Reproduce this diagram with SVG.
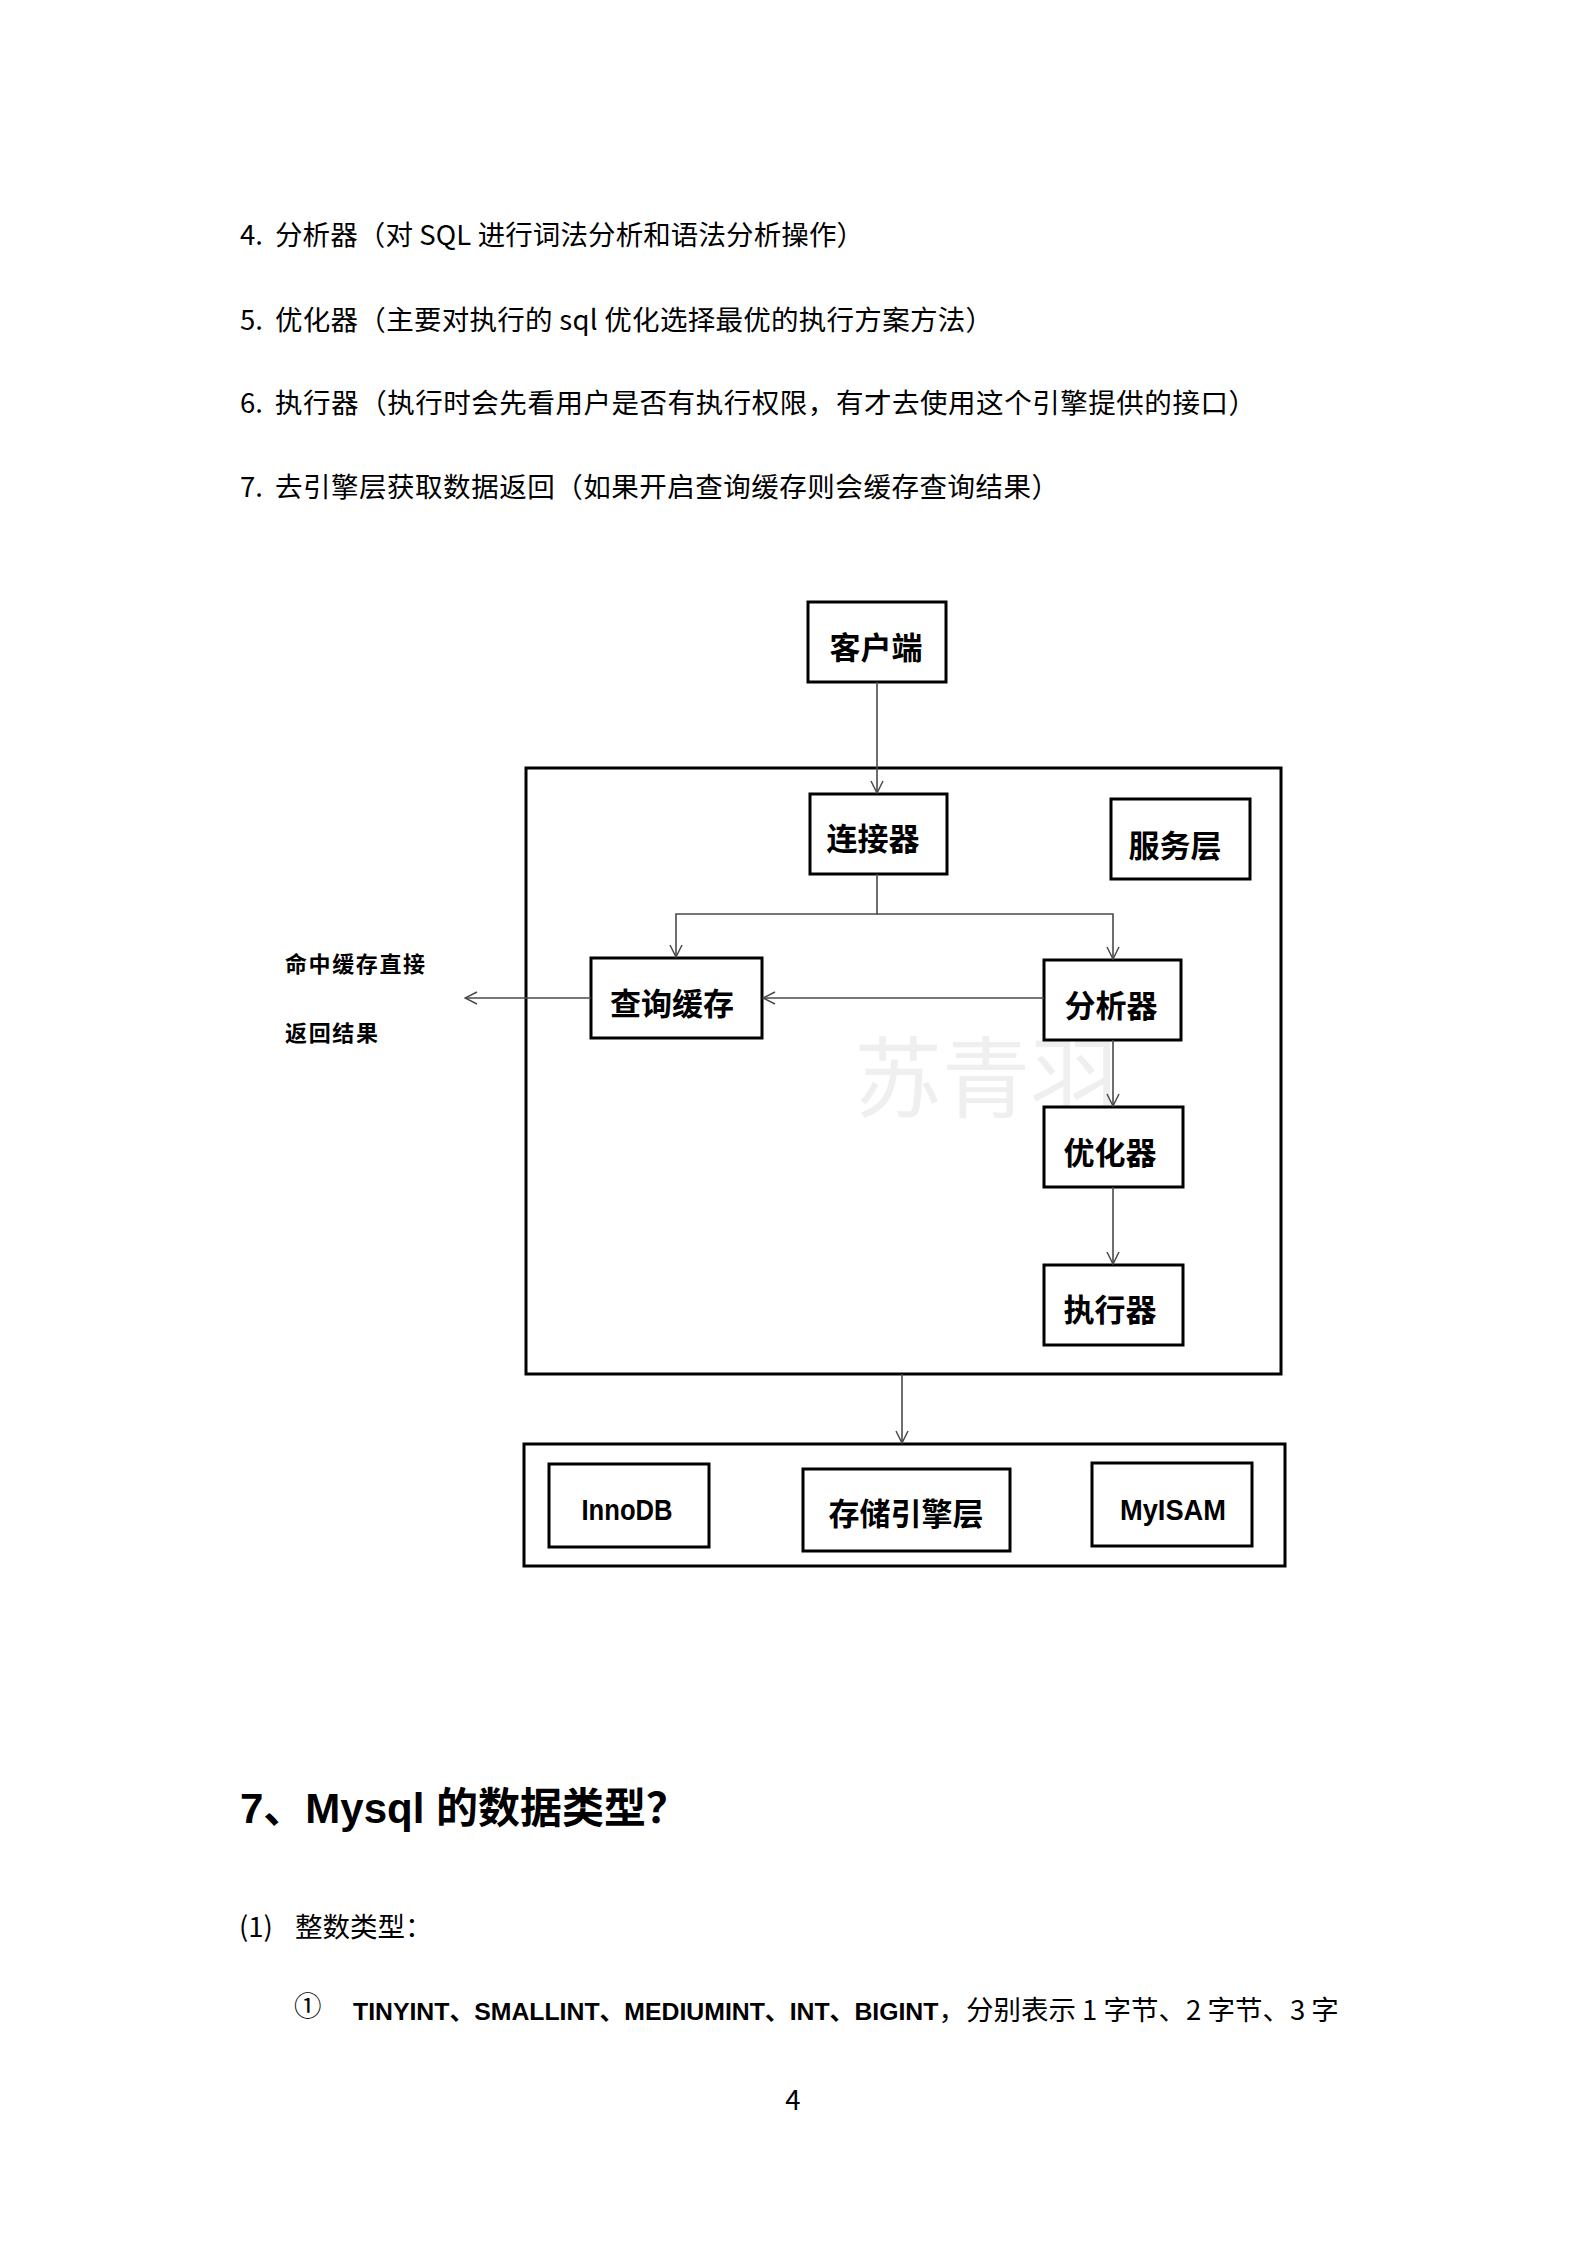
<svg xmlns="http://www.w3.org/2000/svg" width="1587" height="2245" viewBox="0 0 1587 2245">
  <defs>
    <marker id="arr" viewBox="0 0 14 14" refX="13" refY="7" markerWidth="14" markerHeight="14" markerUnits="userSpaceOnUse" orient="auto">
      <path d="M1,1 L13,7 L1,13" fill="none" stroke="#4a4a4a" stroke-width="1.5"/>
    </marker>
    <style>
      .body { font-family: "Noto Sans CJK SC", "Liberation Sans", sans-serif; font-size: 27.5px; fill: #000; }
      .head { font-family: "Liberation Sans", "Noto Sans CJK SC", sans-serif; font-size: 42px; font-weight: bold; fill: #000; }
      .box { fill: #fff; stroke: #000; stroke-width: 3; }
      .lbl { font-family: "Noto Sans CJK SC", sans-serif; font-size: 31px; font-weight: bold; fill: #000; text-anchor: middle; }
      .eng { font-family: "Liberation Sans", sans-serif; font-size: 29px; font-weight: bold; fill: #000; text-anchor: middle; }
      .side { font-family: "Noto Sans CJK SC", sans-serif; font-size: 22px; font-weight: bold; fill: #000; }
      .conn { fill: none; stroke: #4a4a4a; stroke-width: 1.6; }
      .wm { font-family: "Noto Sans CJK SC", sans-serif; font-size: 88px; fill: #efefef; }
    </style>
  </defs>
  <rect x="0" y="0" width="1587" height="2245" fill="#fff"/>

  <g id="intro-text">
    <text class="body" x="240" y="245">4.</text>
    <text class="body" x="275" y="245" textLength="589">分析器（对 SQL 进行词法分析和语法分析操作）</text>
    <text class="body" x="240" y="330">5.</text>
    <text class="body" x="275" y="330" textLength="718">优化器（主要对执行的 sql 优化选择最优的执行方案方法）</text>
    <text class="body" x="240" y="413">6.</text>
    <text class="body" x="275" y="413" textLength="981">执行器（执行时会先看用户是否有执行权限，有才去使用这个引擎提供的接口）</text>
    <text class="body" x="240" y="497">7.</text>
    <text class="body" x="275" y="497" textLength="784">去引擎层获取数据返回（如果开启查询缓存则会缓存查询结果）</text>
  </g>

  <g id="service-layer">
    <rect class="box" x="526" y="768" width="755" height="606"/>
  </g>

  <text class="wm" x="854" y="1110">苏青羽</text>

  <g id="client"><rect class="box" x="808" y="602" width="138" height="80"/><text class="lbl" x="876" y="659">客户端</text></g>
  <g id="connector"><rect class="box" x="810" y="794" width="137" height="80"/><text class="lbl" x="873" y="850">连接器</text></g>
  <g id="service-label"><rect class="box" x="1111" y="799" width="139" height="80"/><text class="lbl" x="1175" y="857">服务层</text></g>
  <g id="query-cache"><rect class="box" x="591" y="958" width="171" height="80"/><text class="lbl" x="672" y="1015">查询缓存</text></g>
  <g id="analyzer"><rect class="box" x="1044" y="960" width="137" height="80"/><text class="lbl" x="1111" y="1017">分析器</text></g>
  <g id="optimizer"><rect class="box" x="1044" y="1107" width="139" height="80"/><text class="lbl" x="1110" y="1164">优化器</text></g>
  <g id="executor"><rect class="box" x="1044" y="1265" width="139" height="80"/><text class="lbl" x="1110" y="1321">执行器</text></g>

  <g id="cache-hit-label">
    <text class="side" x="285" y="972" textLength="140">命中缓存直接</text>
    <text class="side" x="285" y="1041" textLength="93">返回结果</text>
  </g>

  <g id="storage-layer">
    <rect class="box" x="524" y="1444" width="761" height="122"/>
  </g>
  <g id="innodb"><rect class="box" x="549" y="1464" width="160" height="83"/><text class="eng" x="627" y="1520" textLength="91" lengthAdjust="spacingAndGlyphs">InnoDB</text></g>
  <g id="storage-engine"><rect class="box" x="803" y="1469" width="207" height="82"/><text class="lbl" x="906" y="1525">存储引擎层</text></g>
  <g id="myisam"><rect class="box" x="1092" y="1463" width="160" height="83"/><text class="eng" x="1173" y="1520" textLength="106" lengthAdjust="spacingAndGlyphs">MyISAM</text></g>

  <g id="connectors">
    <path class="conn" d="M877,682 V793" marker-end="url(#arr)"/>
    <path class="conn" d="M877,874 V914 H676 V957" marker-end="url(#arr)"/>
    <path class="conn" d="M877,914 H1113 V959" marker-end="url(#arr)"/>
    <path class="conn" d="M1044,998 H763" marker-end="url(#arr)"/>
    <path class="conn" d="M591,998 H465" marker-end="url(#arr)"/>
    <path class="conn" d="M1113,1040 V1106" marker-end="url(#arr)"/>
    <path class="conn" d="M1113,1187 V1264" marker-end="url(#arr)"/>
    <path class="conn" d="M902,1374 V1443" marker-end="url(#arr)"/>
  </g>

  <g id="section-text">
    <text class="head" x="240" y="1823">7、Mysql 的数据类型？</text>
    <text class="body" x="239" y="1937">(1)</text>
    <text class="body" x="295" y="1937">整数类型：</text>
    <text class="body" x="294" y="2016" font-size="34">①</text>
    <text class="body" x="353" y="2020" font-size="26"><tspan font-family="Liberation Sans, Noto Sans CJK SC, sans-serif" font-weight="bold" font-size="24.8">TINYINT、SMALLINT、MEDIUMINT、INT、BIGINT</tspan><tspan>，分别表示 1 字节、2 字节、3 字</tspan></text>
    <text class="body" x="793" y="2110" font-size="21" text-anchor="middle">4</text>
  </g>
</svg>
